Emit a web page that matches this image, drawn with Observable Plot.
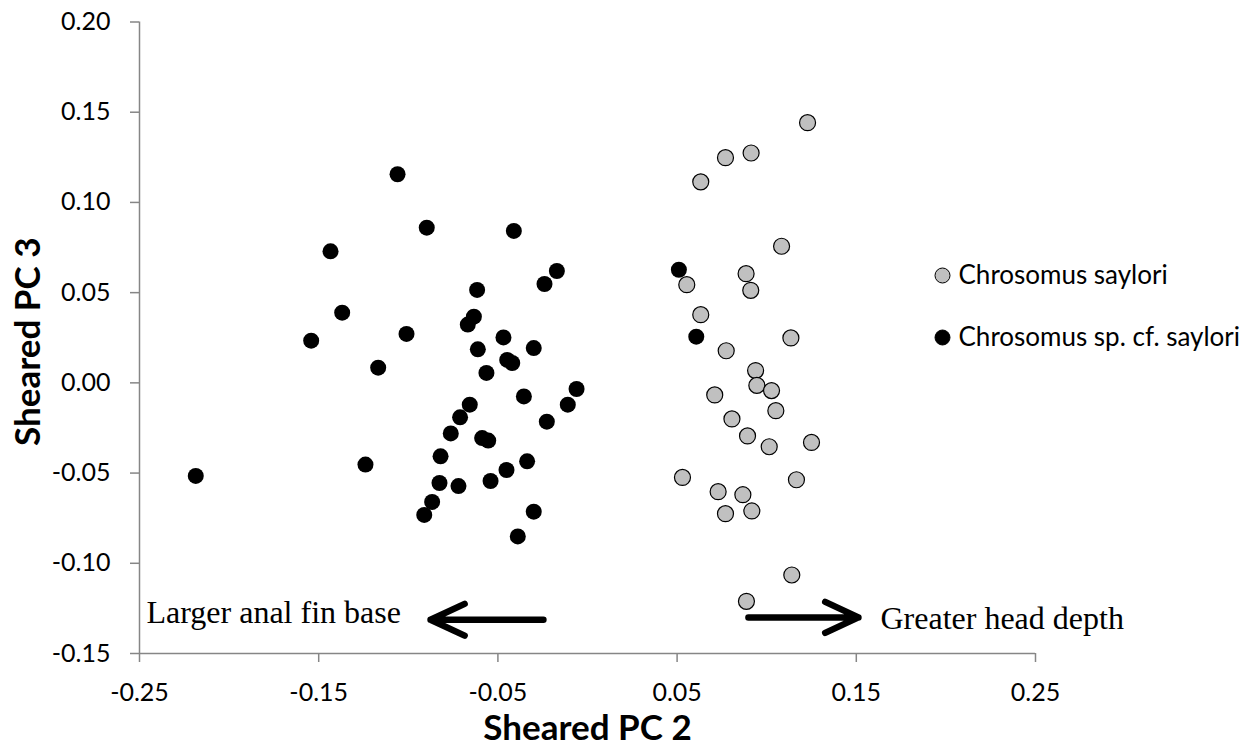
<!DOCTYPE html>
<html><head><meta charset="utf-8">
<script src="https://cdn.jsdelivr.net/npm/d3@7"></script>
<script src="https://cdn.jsdelivr.net/npm/@observablehq/plot@0.6"></script>
<style>body{margin:0;background:#fff;}</style>
</head><body><div id="chart"></div>
<script>
// Chrosomus sp. cf. saylori (black)
const blackX = [-0.106, -0.0897, -0.1434, -0.1369, -0.1542, -0.1010, -0.1168, -0.2186, -0.1239, -0.0711, -0.0763, -0.0820, -0.0826, -0.0720, -0.0867, -0.0911, -0.0411, -0.0171, -0.0240, -0.0616, -0.0634, -0.0668, -0.0612, -0.0469, -0.0300, -0.0448, -0.0420, -0.0564, -0.0355, -0.0061, -0.0110, -0.0227, -0.0657, -0.0588, -0.0554, -0.0337, -0.0452, -0.0541, -0.0300, -0.0389, 0.0510, 0.0607];
const blackY = [0.1156, 0.0860, 0.0729, 0.0389, 0.0234, 0.0271, 0.0084, -0.0516, -0.0453, -0.0191, -0.0280, -0.0407, -0.0555, -0.0572, -0.0660, -0.0732, 0.0842, 0.0620, 0.0548, 0.0515, 0.0367, 0.0323, 0.0186, 0.0252, 0.0193, 0.0127, 0.0110, 0.0055, -0.0075, -0.0034, -0.0121, -0.0215, -0.0121, -0.0306, -0.0320, -0.0435, -0.0483, -0.0544, -0.0714, -0.0851, 0.0627, 0.0256];
// Chrosomus saylori (gray)
const grayX = [0.1228, 0.0913, 0.0770, 0.0632, 0.1083, 0.0885, 0.0554, 0.0911, 0.0632, 0.1135, 0.0774, 0.0938, 0.0945, 0.1027, 0.0710, 0.1051, 0.0806, 0.0893, 0.1014, 0.1250, 0.0530, 0.1166, 0.0729, 0.0867, 0.0770, 0.0917, 0.1140, 0.0887];
const grayY = [0.1442, 0.1274, 0.1248, 0.1114, 0.0757, 0.0605, 0.0544, 0.0513, 0.0378, 0.0249, 0.0178, 0.0068, -0.0014, -0.0043, -0.0067, -0.0154, -0.0200, -0.0294, -0.0354, -0.0330, -0.0524, -0.0537, -0.0603, -0.0620, -0.0725, -0.0710, -0.1065, -0.1211];

const groups = ["Chrosomus saylori", "Chrosomus sp. cf. saylori"];
const xTicks = [-0.25, -0.15, -0.05, 0.05, 0.15, 0.25];
const yTicks = [-0.15, -0.10, -0.05, 0.00, 0.05, 0.10, 0.15, 0.20];

const arrowX1 = [-0.0246, 0.0898];
const arrowX2 = [-0.0876, 0.1512];
const arrowY = [-0.1313, -0.1300];
const noteLabels = ["Larger anal fin base", "Greater head depth"];
const noteX = [-0.2461, 0.1635];
const noteY = [-0.1274, -0.1308];

const fmt = d => d.toFixed(2);
const legendFill = ["#c0c0c0", "#000"];

const plot = Plot.plot({
  width: 1255, height: 749,
  marginLeft: 139, marginRight: 220, marginTop: 21.5, marginBottom: 96,
  x: {domain: [-0.25, 0.25]},
  y: {domain: [-0.15, 0.20]},
  style: {fontFamily: "Lato, sans-serif", background: "#fff", color: "#000"},
  marks: [
    Plot.axisX({ticks: xTicks, tickFormat: fmt, tickSize: 9, tickPadding: 21, stroke: "#868686", strokeWidth: 1.5, fill: "#000", fontSize: 25, label: null}),
    Plot.axisY({ticks: yTicks, tickFormat: fmt, tickSize: 9, tickPadding: 20, stroke: "#868686", strokeWidth: 1.5, fill: "#000", fontSize: 25, label: null}),
    Plot.ruleX([-0.25], {stroke: "#868686", strokeWidth: 1.5}),
    Plot.ruleY([-0.15], {stroke: "#868686", strokeWidth: 1.5}),
    Plot.text(["Sheared PC 2"], {frameAnchor: "bottom", dy: 75, fontSize: 35, fontWeight: "bold", textAnchor: "middle", lineAnchor: "middle"}),
    Plot.text(["Sheared PC 3"], {frameAnchor: "left", dx: -110.5, dy: 4, rotate: -90, fontSize: 35, fontWeight: "bold", textAnchor: "middle", lineAnchor: "middle"}),
    Plot.dot({length: grayX.length}, {x: grayX, y: grayY, r: 8, fill: "#c0c0c0", stroke: "#000", strokeWidth: 1.2}),
    Plot.dot({length: blackX.length}, {x: blackX, y: blackY, r: 8, fill: "#000"}),
    Plot.arrow({length: arrowX1.length}, {x1: arrowX1, x2: arrowX2, y1: arrowY, y2: arrowY, stroke: "#000", strokeWidth: 6.5, headLength: 18, headAngle: 50}),
    Plot.text({length: noteLabels.length}, {x: noteX, y: noteY, text: noteLabels, textAnchor: "start", lineAnchor: "middle", fontFamily: "'Liberation Serif', 'Times New Roman', serif", fontSize: 32}),
    ...groups.flatMap((g, i) => [
      Plot.dot([g], {frameAnchor: "top-left", dx: 803, dy: 253.5 + 62 * i, r: 7.5, fill: legendFill[i], stroke: "#000", strokeWidth: 1}),
      Plot.text([g], {frameAnchor: "top-left", dx: 819, dy: 253.5 + 62 * i, textAnchor: "start", lineAnchor: "middle", fontSize: 26})
    ])
  ]
});
document.getElementById("chart").appendChild(plot);
</script>
</body></html>
